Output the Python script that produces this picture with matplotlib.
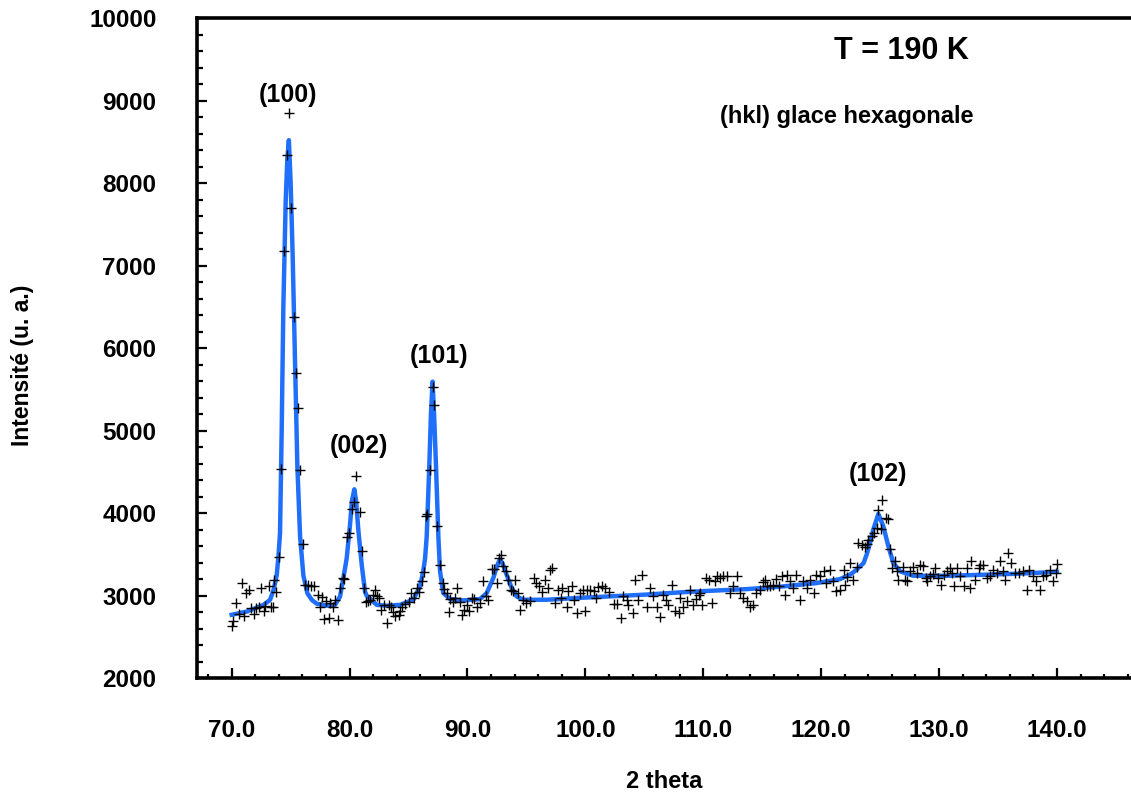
import matplotlib
matplotlib.use('Agg')
import matplotlib.pyplot as plt
import numpy as np
from matplotlib.ticker import MultipleLocator, FormatStrFormatter

plt.rcParams['font.family'] = 'sans-serif'
plt.rcParams['font.sans-serif'] = ['Liberation Sans', 'DejaVu Sans']
plt.rcParams['font.weight'] = 'bold'
plt.rcParams['font.size'] = 17

# measured points (2 theta, intensity)
theta_obs = [
    70.0, 70.15, 70.4, 70.65, 70.85, 71.05, 71.2, 71.45, 71.65, 71.85,
    72.05, 72.3, 72.45, 72.7, 72.85, 73.2, 73.3, 73.5, 73.6, 73.8, 74.0,
    74.2, 74.45, 74.65, 74.85, 75.0, 75.25, 75.45, 75.65, 75.8, 76.05,
    76.2, 76.5, 76.75, 77.0, 77.35, 77.45, 77.7, 77.85, 78.0, 78.25,
    78.35, 78.6, 78.75, 79.05, 79.2, 79.4, 79.55, 79.8, 79.95, 80.2,
    80.35, 80.55, 80.85, 81.05, 81.2, 81.4, 81.55, 81.7, 82.0, 82.15,
    82.3, 82.5, 82.7, 82.9, 83.2, 83.35, 83.5, 83.7, 83.85, 84.15,
    84.3, 84.45, 84.7, 85.0, 85.25, 85.45, 85.7, 85.9, 86.1, 86.3,
    86.45, 86.6, 86.8, 87.05, 87.2, 87.45, 87.65, 87.9, 88.05, 88.25,
    88.4, 88.55, 88.75, 88.95, 89.1, 89.35, 89.5, 89.7, 89.95, 90.15,
    90.35, 90.55, 90.8, 91.05, 91.35, 91.55, 91.75, 92.05, 92.25, 92.5,
    92.7, 92.85, 93.05, 93.25, 93.45, 93.65, 93.9, 94.05, 94.3, 94.45,
    94.75, 95.0, 95.3, 95.6, 95.85, 96.1, 96.3, 96.6, 96.8, 97.0,
    97.2, 97.4, 97.7, 97.9, 98.05, 98.4, 98.55, 98.85, 99.0, 99.25,
    99.55, 99.8, 100.0, 100.1, 100.4, 100.7, 100.9, 101.1, 101.4, 101.7,
    102.0, 102.4, 102.7, 103.0, 103.2, 103.5, 103.65, 104.0, 104.2, 104.5,
    104.8, 105.2, 105.5, 105.75, 106.05, 106.35, 106.6, 106.85, 107.05, 107.35,
    107.6, 107.9, 108.05, 108.3, 108.6, 108.9, 109.15, 109.4, 109.6, 109.75,
    109.9, 110.25, 110.45, 110.7, 111.0, 111.15, 111.4, 111.7, 112.0, 112.3,
    112.55, 112.85, 113.1, 113.4, 113.7, 113.95, 114.25, 114.5, 114.8, 115.05,
    115.25, 115.4, 115.65, 115.95, 116.2, 116.4, 116.65, 116.95, 117.1, 117.35,
    117.65, 117.9, 118.2, 118.5, 118.8, 119.05, 119.35, 119.6, 119.9, 120.2,
    120.45, 120.75, 121.0, 121.3, 121.6, 121.9, 122.05, 122.2, 122.45, 122.7,
    123.0, 123.15, 123.45, 123.7, 123.85, 124.0, 124.3, 124.45, 124.7, 124.85,
    125.05, 125.2, 125.5, 125.7, 125.85, 126.05, 126.25, 126.4, 126.55, 126.95,
    127.1, 127.3, 127.55, 127.8, 128.1, 128.4, 128.65, 128.9, 129.0, 129.2,
    129.45, 129.65, 129.95, 130.2, 130.45, 130.65, 130.95, 131.1, 131.25, 131.5,
    131.8, 132.1, 132.35, 132.6, 132.75, 133.05, 133.35, 133.5, 133.75, 134.05,
    134.3, 134.55, 134.9, 135.2, 135.45, 135.6, 135.85, 136.1, 136.4, 136.8,
    137.15, 137.45, 137.65, 137.95, 138.2, 138.55, 138.8, 139.05, 139.4, 139.65,
    139.9, 140.0,
]
counts_obs = [
    2630, 2690, 2910, 2780, 3160, 2760, 3030, 3065, 2850, 2780,
    2850, 2870, 3100, 2810, 2880, 3120, 2870, 2860, 3195, 3050, 3470,
    4540, 7180, 8340, 8850, 7700, 6380, 5700, 5280, 4530, 3630,
    3135, 3134, 3122, 3114, 3012, 2863, 2980, 2721, 2931, 2729,
    2911, 2870, 2952, 2709, 3093, 3215, 3203, 3716, 3758, 4057,
    4142, 4454, 4015, 3544, 3097, 2927, 2931, 2952, 3012, 3073,
    3000, 2972, 2830, 2891, 2668, 2891, 2863, 2798, 2757, 2770,
    2818, 2867, 2899, 2919, 3033, 2972, 3093, 3041, 3175, 3288,
    3972, 3990, 4527, 5531, 5317, 3844, 3374, 3150, 3081, 3033,
    2798, 2960, 2919, 2972, 3093, 2919, 2770, 2830, 2891, 2820,
    2972, 2960, 2863, 2911, 3175, 2992, 2952, 3324, 3324, 3154,
    3458, 3498, 3357, 3296, 3195, 3073, 3053, 3195, 3033, 2830,
    2952, 2911, 2931, 3215, 3154, 3122, 3041, 3186, 3100, 3316,
    3336, 2911, 3073, 2972, 3093, 2870, 3053, 3114, 2952, 2790,
    3033, 3073, 2810, 3065, 3065, 3060, 2971, 3110, 3115, 3100,
    3040, 2905, 2895, 2728, 2992, 2950, 2891, 2790, 3194, 2952,
    3255, 2870, 3093, 2992, 2870, 2749, 3012, 2950, 2891, 3134,
    2810, 2790, 2972, 2870, 2931, 3073, 2891, 2960, 3012, 3033,
    2891, 3215, 3194, 2911, 3174, 3235, 3215, 3235, 3243, 3033,
    3114, 3235, 3033, 2972, 2931, 2870, 2891, 3033, 3073, 3170,
    3194, 3114, 3114, 3134, 3200, 3114, 3235, 3012, 3255, 3174,
    3093, 3255, 2952, 3174, 3093, 3194, 3033, 3255, 3235, 3296,
    3154, 3316, 3174, 3053, 3073, 3316, 3134, 3230, 3397, 3194,
    3350, 3640, 3620, 3590, 3630, 3680, 3730, 3760, 3820, 4045,
    3810, 4158, 3940, 3935, 3567, 3336, 3417, 3296, 3186, 3353,
    3190, 3174, 3300, 3348, 3276, 3377, 3357, 3215, 3174, 3235,
    3270, 3336, 3215, 3134, 3250, 3296, 3336, 3275, 3114, 3336,
    3235, 3114, 3336, 3093, 3417, 3194, 3336, 3377, 3377, 3215,
    3235, 3316, 3275, 3417, 3300, 3194, 3520, 3397, 3275, 3275,
    3296, 3073, 3316, 3235, 3174, 3073, 3235, 3255, 3316, 3174,
    3275, 3389,
]

# fitted profile (2 theta, intensity)
theta_fit = [
    70.0, 71.3, 72.7, 73.25, 73.55, 73.82, 73.96, 74.1, 74.24, 74.38,
    74.58, 74.72, 74.85, 75.0, 75.17, 75.37, 75.57, 75.8, 76.08, 76.42,
    76.8, 77.2, 78.06, 78.76, 79.19, 79.47, 79.75, 80.03, 80.2, 80.4,
    80.55, 80.74, 81.03, 81.31, 81.45, 82.3, 83.15, 84.28, 85.4, 85.97,
    86.25, 86.4, 86.54, 86.76, 86.9, 87.04, 87.18, 87.33, 87.53, 87.67,
    87.82, 87.95, 88.52, 89.65, 91.06, 91.63, 92.19, 92.5, 92.76, 93.0,
    93.32, 93.75, 94.17, 94.74, 96.72, 99.55, 102.37, 105.2, 108.0, 110.5,
    113.7, 116.5, 119.6, 121.6, 122.5, 123.0, 123.6, 123.86, 124.14, 124.42,
    124.85, 125.27, 125.7, 126.12, 126.7, 127.8, 130.9, 133.75, 136.6, 140.0,
]
counts_fit = [
    2770, 2810, 2890, 2950, 3070, 3250, 3470, 3760, 5000, 6490,
    7780, 8300, 8520, 8000, 7130, 5850, 4570, 3720, 3245, 3030,
    2950, 2905, 2880, 2890, 2990, 3215, 3450, 3850, 4150, 4290,
    4150, 3800, 3374, 3050, 3000, 2890, 2880, 2890, 2952, 3114,
    3300, 3450, 3716, 4570, 5200, 5595, 5150, 4570, 3716, 3300,
    3150, 3033, 2960, 2944, 2960, 3033, 3215, 3360, 3446, 3380,
    3256, 3094, 2992, 2952, 2952, 2975, 2995, 3015, 3041, 3060,
    3081, 3110, 3154, 3202, 3260, 3316, 3397, 3500, 3640, 3802,
    3992, 3843, 3600, 3397, 3296, 3243, 3243, 3255, 3267, 3290,
]

peak_names = ['(100)', '(002)', '(101)', '(102)']

fig = plt.figure(figsize=(11.31, 7.93), dpi=100)
ax = fig.add_axes([0.1739, 0.1446, 0.8261, 0.8327])

ax.plot(theta_fit, counts_fit, color='#1f6ffa', lw=3.2, solid_joinstyle='round', zorder=2)
ax.plot(theta_obs, counts_obs, ls='none', marker='+', ms=7, mew=1.0, color='black', zorder=3)

ax.set_xlim(67.03, 146.28)
ax.set_ylim(2000, 10000)

ax.xaxis.set_major_locator(MultipleLocator(10))
ax.xaxis.set_minor_locator(MultipleLocator(2))
ax.yaxis.set_major_locator(MultipleLocator(1000))
ax.yaxis.set_minor_locator(MultipleLocator(200))
ax.xaxis.set_major_formatter(FormatStrFormatter('%.1f'))
ax.set_xticks([70, 80, 90, 100, 110, 120, 130, 140])

ax.tick_params(axis='both', which='major', direction='in', length=7.5, width=1.6,
               labelsize=17.5, pad=29)
ax.tick_params(axis='x', which='minor', direction='in', length=3.2, width=1.6)
ax.tick_params(axis='y', which='minor', direction='in', length=4.3, width=1.6)
ax.tick_params(top=False, right=False, which='both')

for side in ['left', 'bottom', 'top']:
    ax.spines[side].set_linewidth(2.6)
ax.spines['right'].set_visible(False)
ax.grid(False)

# peak labels
label_pos = [(74.8, 9065), (80.8, 4815), (87.6, 5905), (124.8, 4470)]
for name, (px, py) in zip(peak_names, label_pos):
    ax.text(px, py, name, ha='center', va='center', fontsize=18, fontweight='bold')

fig.text(901.5 / 1131, 1 - 51 / 793, 'T = 190 K', ha='center', va='center',
         fontsize=22, fontweight='bold')
fig.text(973 / 1131, 1 - 116 / 793, '(hkl) glace hexagonale', ha='right', va='center',
         fontsize=17, fontweight='bold')

fig.text(664.5 / 1131, 1 - 781 / 793, '2 theta', ha='center', va='center',
         fontsize=17, fontweight='bold')
fig.text(22 / 1131, 1 - 365 / 793, 'Intensité (u. a.)', ha='center', va='center',
         rotation=90, fontsize=16.5, fontweight='bold')

fig.savefig('out.png', dpi=100)
